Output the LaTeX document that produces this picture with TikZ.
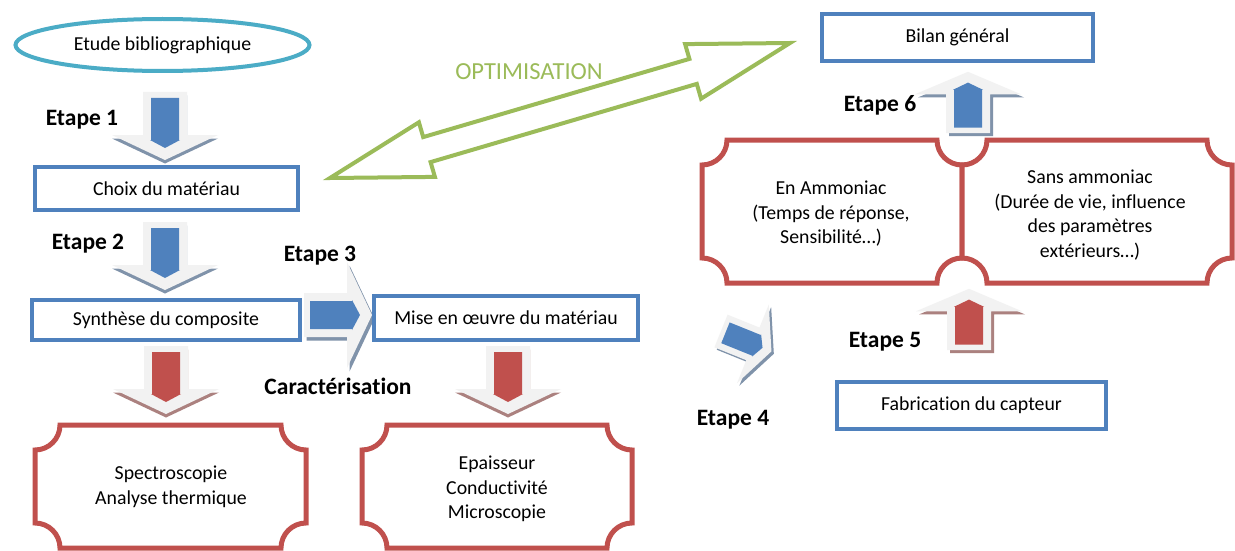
\documentclass[tikz,border=0pt]{standalone}
\usepackage{fontspec}
\setmainfont{Carlito}[Ligatures=NoCommon]
\usetikzlibrary{shapes.geometric}
\definecolor{cblue}{HTML}{4F81BD}
\definecolor{cred}{HTML}{C0504D}
\definecolor{cgreen}{HTML}{9BBB59}
\definecolor{cteal}{HTML}{4BACC6}
\definecolor{cpale}{HTML}{F2F2F2}
\newcommand\myplaque[5]{%
  \draw[plq] ({#1+#5},{#2}) -- ({#3-#5},{#2})
    .. controls ({#3-#5},{#2+0.552*#5}) and ({#3-0.552*#5},{#2+#5}) .. ({#3},{#2+#5})
    -- ({#3},{#4-#5})
    .. controls ({#3-0.552*#5},{#4-#5}) and ({#3-#5},{#4-0.552*#5}) .. ({#3-#5},{#4})
    -- ({#1+#5},{#4})
    .. controls ({#1+#5},{#4-0.552*#5}) and ({#1+0.552*#5},{#4-#5}) .. ({#1},{#4-#5})
    -- ({#1},{#2+#5})
    .. controls ({#1+0.552*#5},{#2+#5}) and ({#1+#5},{#2+0.552*#5}) .. cycle;}
\tikzset{
  txt/.style={font=\fontsize{19.8}{24.5}\selectfont, align=center, inner sep=0pt},
  lbl/.style={font=\fontsize{23.5}{28}\selectfont\bfseries, inner sep=0pt},
  bbox/.style={draw=cblue, line width=4pt, fill=white, txt},
  plq/.style={draw=cred, line width=5pt, fill=white, line join=miter},
  pics/blkarr/.style args={#1/#2/#3}{code={
    \begin{scope}[shift={(#2,#3)}]
      \fill[#1!45!gray!85] (-22,0) -- (22,0) -- (22,43) -- (53,43) -- (0,68) -- (-53,43) -- (-22,43) -- cycle;
    \end{scope}
    \fill[cpale] (-22,0) -- (22,0) -- (22,43) -- (53,43) -- (0,68) -- (-53,43) -- (-22,43) -- cycle;
    \fill[#1] (-14,6) -- (14,6) -- (14,48) -- (15,48) -- (0,56) -- (-15,48) -- (-14,48) -- cycle;
  }}
}
\begin{document}
\begin{tikzpicture}[x=1pt,y=-1pt]
\useasboundingbox[fill=white] (0,0) rectangle (1235,551);

% optimisation double arrow
\draw[cgreen, line width=4pt, fill=white, line join=miter]
  (330,178) -- (418.9,122.3) -- (423.2,137.1) -- (689.4,58.9) -- (685.1,44.1)
  -- (790,43) -- (701.1,98.7) -- (696.8,83.9) -- (430.6,162.1) -- (434.9,176.9) -- cycle;
\node[font=\fontsize{24.5}{28}\selectfont, text=cgreen, inner sep=0pt] (optim) at (529,72) {OPTIMISATION};

% left column
\node[ellipse, draw=cteal, line width=4pt, minimum width=294pt, minimum height=52pt, inner sep=0pt, txt] (etude) at (162.5,45) {Etude bibliographique};
\pic at (165,92) {blkarr=cblue/0/3.5};
\node[lbl] (e1) at (82,120) {Etape 1};
\node[bbox, minimum width=263pt, minimum height=43pt] (choix) at (166.5,188.5) {Choix du matériau};
\pic at (165,222) {blkarr=cblue/0/3.5};
\node[lbl] (e2) at (88,244) {Etape 2};
\node[bbox, minimum width=268pt, minimum height=40pt] (synth) at (166,320) {Synthèse du composite};
\pic[rotate=90] at (304,315) {blkarr=cblue/-3.5/2.5};
\node[lbl] (e3) at (320,256) {Etape 3};
\node[bbox, minimum width=264pt, minimum height=44pt] (mise) at (506,318) {Mise en œuvre du matériau};
\node[lbl] (carac) at (338,386) {Caractérisation};
\pic at (166,346) {blkarr=cred/0/3.5};
\pic at (508,346) {blkarr=cred/0/3.5};
\myplaque{35}{425}{306}{548}{25}
\node[txt] (spec) at (171,487) {Spectroscopie\\Analyse thermique};
\myplaque{362}{425}{632}{548}{25}
\node[txt] (epai) at (497,489) {Epaisseur\\Conductivité\\Microscopie};

% right column
\node[bbox, minimum width=271pt, minimum height=47pt] (bilan) at (957.5,37.5) {Bilan général};
\pic[yscale=-0.9] at (968,133) {blkarr=cblue/3/-3.5};
\node[lbl] (e6) at (880,105) {Etape 6};
\myplaque{702}{140}{962}{283}{25}
\myplaque{962}{140}{1232}{283}{25}
\node[txt] (enam) at (831,214) {En Ammoniac\\(Temps de réponse,\\Sensibilité…)};
\node[txt] (sans) at (1090,215) {Sans ammoniac\\(Durée de vie, influence\\des paramètres\\extérieurs…)};
\pic[yscale=-0.9] at (969,350) {blkarr=cred/3/-3.5};
\node[lbl] (e5) at (885,342) {Etape 5};
\node[bbox, minimum width=269pt, minimum height=47pt] (fab) at (971.5,405.5) {Fabrication du capteur};
\pic[rotate=68, scale=0.8] at (721,331) {blkarr=cblue/-1.7/3.9};
\node[lbl] (e4) at (733,420) {Etape 4};
\end{tikzpicture}
\end{document}
